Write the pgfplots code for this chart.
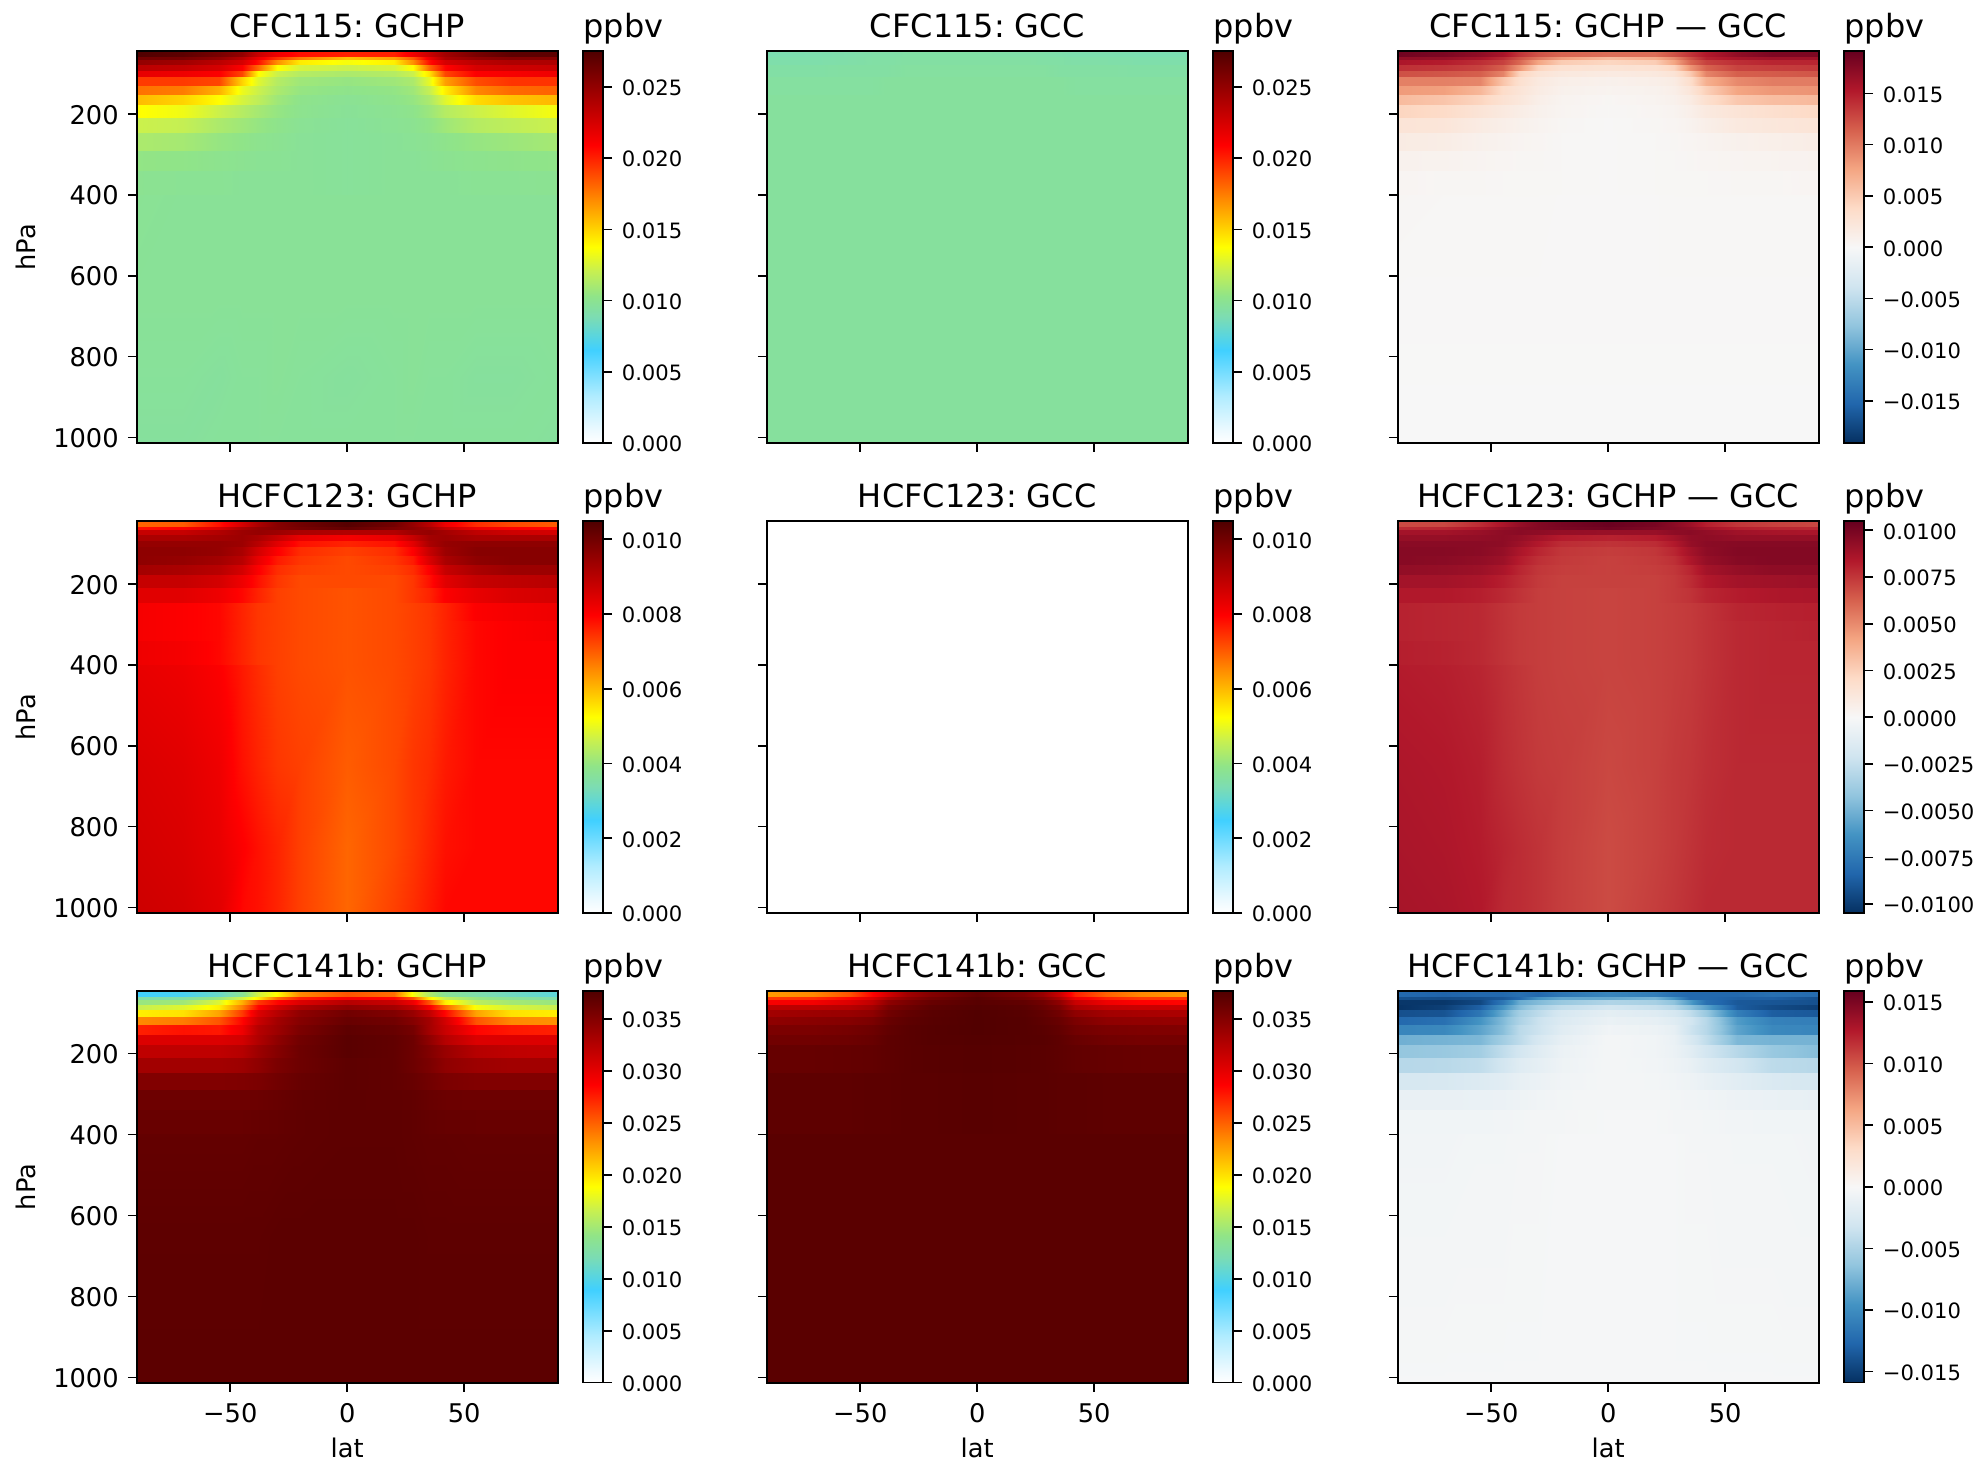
\documentclass[border=0pt]{standalone}
\usepackage{fontspec}
\setmainfont{DejaVu Sans}
\usepackage{etoolbox}
\usepackage{pgfplots}
\usepackage{pgfplotstable}
\pgfplotsset{compat=1.18}
\pgfplotsset{
 colormap={wgyr}{rgb255(0)=(255,255,255) rgb255(30)=(238,250,255) rgb255(120)=(176,236,255) rgb255(237)=(64,208,255) rgb255(320)=(123,220,180) rgb255(375)=(144,228,136) rgb255(440)=(200,240,80) rgb255(500)=(255,255,0) rgb255(620)=(255,140,0) rgb255(760)=(255,0,0) rgb255(870)=(176,0,0) rgb255(1000)=(80,0,0)},
 colormap={rdbu}{rgb255(0)=(5,48,97) rgb255(1)=(33,102,172) rgb255(2)=(67,147,195) rgb255(3)=(146,197,222) rgb255(4)=(209,229,240) rgb255(5)=(247,247,247) rgb255(6)=(253,219,199) rgb255(7)=(244,165,130) rgb255(8)=(214,96,77) rgb255(9)=(178,24,43) rgb255(10)=(103,0,31)}
}
% CFC115 GCHP
\pgfplotstableread{
pt pb a b c d e f g h i j k l m n o
45.4 60 .0275 .027 .026 .025 .023 .0215 .0205 .020 .020 .0215 .023 .0245 .026 .027 .027
60 68 .0262 .026 .025 .0235 .0215 .0195 .0175 .0155 .0165 .0185 .0215 .024 .025 .0255 .0255
68 80 .025 .0245 .0235 .0225 .0205 .017 .0143 .0135 .0142 .017 .0205 .0225 .0235 .024 .024
80 93 .0235 .0232 .0225 .021 .018 .0138 .0125 .0122 .0125 .0138 .018 .0208 .0225 .0228 .023
93 110 .0218 .0215 .021 .019 .0138 .0122 .0115 .0112 .0115 .0122 .0145 .019 .021 .0212 .0215
110 130 .0193 .0193 .019 .015 .0128 .0115 .0108 .0105 .0108 .0112 .013 .0165 .0188 .0195 .0195
130 153 .0178 .0175 .016 .0132 .0122 .0112 .0105 .0102 .0104 .0108 .012 .0142 .0172 .018 .0182
153 178 .0157 .015 .0138 .0125 .0118 .0108 .0102 .0099 .0102 .0105 .0112 .0128 .0148 .0155 .0158
178 211 .0138 .0133 .0122 .0115 .011 .0105 .0101 .0098 .01 .0102 .0107 .0115 .0122 .0128 .0135
211 248 .0122 .012 .0112 .0108 .0105 .0102 .0099 .0097 .0099 .01 .0103 .0108 .0115 .0118 .0122
248 291 .0112 .011 .0105 .0103 .0101 .01 .0098 .0097 .0098 .0099 .01 .0102 .0105 .0107 .011
291 340 .0104 .0103 .0101 .01 .0099 .0099 .0098 .0097 .0098 .0098 .0099 .01 .0101 .0102 .0103
340 400 .01 .0099 .0099 .0098 .0098 .0098 .0098 .0097 .0098 .0098 .0098 .0098 .0099 .0099 .01
400 400 .0099 .0098 .0098 .0098 .0098 .0098 .0098 .0098 .0098 .0098 .0098 .0098 .0098 .0098 .0098
650 650 .0098 .0098 .0098 .0098 .0098 .0098 .0098 .0098 .0098 .0098 .0098 .0098 .0098 .0098 .0098
850 850 .0097 .0097 .0096 .0097 .0097 .0098 .0097 .0096 .0097 .0098 .0097 .0097 .0096 .0096 .0097
1013.3 1013.3 .0096 .0096 .0097 .0097 .0097 .0097 .0097 .0097 .0097 .0097 .0097 .0097 .0097 .0097 .0096
}\tA
% CFC115 GCC
\pgfplotstableread{
pt pb a b c d e f g h i j k l m n o
45.4 60 .0089 .009 .0091 .0092 .0092 .0093 .0093 .0093 .0092 .0092 .0091 .009 .009 .0089 .0089
60 80 .0091 .0091 .0092 .0093 .0093 .0094 .0094 .0094 .0094 .0093 .0093 .0092 .0092 .0091 .0091
80 110 .0093 .0093 .0094 .0094 .0094 .0095 .0095 .0095 .0095 .0095 .0094 .0094 .0094 .0093 .0093
110 153 .0095 .0095 .0095 .0095 .0096 .0096 .0096 .0096 .0096 .0096 .0096 .0095 .0095 .0095 .0095
153 153 .0096 .0096 .0096 .0096 .0096 .0096 .0096 .0096 .0096 .0096 .0096 .0096 .0096 .0096 .0096
1013.3 1013.3 .0096 .0096 .0096 .0096 .0096 .0096 .0096 .0096 .0096 .0096 .0096 .0096 .0096 .0096 .0096
}\tB
% CFC115 difference
\pgfplotstableread{
pt pb a b c d e f g h i j k l m n o
45.4 60 .0186 .018 .017 .0158 .0138 .0122 .0112 .0107 .0107 .0122 .0138 .0153 .017 .018 .018
60 68 .0169 .0167 .0157 .0142 .0122 .0102 .0082 .0062 .0072 .0092 .0122 .0147 .0157 .0162 .0162
68 80 .0156 .0151 .0141 .0131 .0111 .0076 .0049 .0041 .0048 .0076 .0111 .0131 .0141 .0146 .0146
80 93 .014 .0137 .013 .0115 .0085 .0043 .003 .0027 .003 .0043 .0085 .0113 .013 .0133 .0135
93 110 .0123 .012 .0115 .0095 .0043 .0027 .002 .0017 .002 .0027 .005 .0095 .0115 .0117 .012
110 130 .0097 .0097 .0094 .0054 .0032 .0019 .0012 .0009 .0012 .0016 .0034 .0069 .0092 .0099 .0099
130 153 .0082 .0079 .0064 .0036 .0026 .0016 .0009 .0006 .0008 .0012 .0024 .0046 .0076 .0084 .0086
153 178 .0061 .0054 .0042 .0029 .0022 .0012 .0006 .0003 .0006 .0009 .0016 .0032 .0052 .0059 .0062
178 211 .0042 .0037 .0026 .0019 .0014 .0009 .0005 .0002 .0004 .0006 .0011 .0019 .0026 .0032 .0039
211 248 .0026 .0024 .0016 .0012 .0009 .0006 .0003 .0001 .0003 .0004 .0007 .0012 .0019 .0022 .0026
248 291 .0016 .0014 .0009 .0007 .0005 .0004 .0002 .0001 .0002 .0003 .0004 .0006 .0009 .0011 .0014
291 340 .0008 .0007 .0005 .0004 .0003 .0003 .0002 .0001 .0002 .0002 .0003 .0004 .0005 .0006 .0007
340 400 .0004 .0003 .0003 .0002 .0002 .0002 .0002 .0001 .0002 .0002 .0002 .0002 .0003 .0003 .0004
400 400 .0003 .0002 .0002 .0002 .0002 .0002 .0001 .0001 .0001 .0002 .0002 .0002 .0002 .0002 .0002
650 650 .0001 .0001 .0001 .0001 .0001 .0001 .0001 .0001 .0001 .0001 .0001 .0001 .0001 .0001 .0001
1013.3 1013.3 0 0 0 0 0 0 0 0 0 0 0 0 0 0 0
}\tC
% HCFC123 GCHP (the difference panel holds the same values, GCC being 0)
\pgfplotstableread{
pt pb a b c d e f g h i j k l m n o
45.4 60 .0069 .007 .0078 .0086 .0092 .0097 .01 .0104 .01 .0095 .009 .0082 .0075 .0072 .007
60 68 .0078 .008 .0085 .0092 .0095 .0097 .0099 .0102 .0098 .0096 .0093 .0088 .0082 .008 .0079
68 80 .0088 .0088 .0091 .0094 .0095 .0094 .0092 .0091 .0091 .0094 .0095 .0093 .0089 .0087 .0086
80 93 .0092 .0092 .0093 .0094 .0092 .0088 .0083 .0081 .0083 .0088 .0093 .0094 .0092 .0092 .0092
93 110 .0095 .0095 .0095 .0094 .009 .0084 .0078 .0076 .0078 .0084 .0092 .0095 .0096 .0096 .0096
110 130 .0096 .0096 .0095 .0092 .0086 .008 .0075 .0073 .0075 .008 .0088 .0094 .0097 .0097 .0097
130 153 .0096 .0095 .0093 .009 .0083 .0077 .0074 .0072 .0074 .0077 .0085 .0092 .0096 .0097 .0097
153 178 .0093 .0092 .009 .0086 .008 .0075 .0073 .0072 .0073 .0075 .008 .0088 .0092 .0094 .0094
178 211 .0088 .0088 .0086 .0082 .0078 .0074 .0072 .0072 .0072 .0074 .0078 .0084 .0088 .0089 .009
211 248 .0084 .0084 .0082 .0079 .0076 .0073 .0072 .0071 .0072 .0074 .0076 .008 .0083 .0085 .0086
248 291 .0081 .008 .0079 .0076 .0074 .0073 .0072 .0071 .0072 .0073 .0074 .0076 .008 .0081 .0082
291 340 .0081 .008 .0079 .0076 .0074 .0073 .0072 .0071 .0072 .0073 .0074 .0076 .0079 .008 .0081
340 400 .0082 .0081 .0079 .0076 .0074 .0073 .0072 .0071 .0072 .0073 .0074 .0076 .0079 .008 .008
400 400 .0083 .0082 .008 .0077 .0075 .0073 .0072 .0071 .0072 .0073 .0074 .0076 .0079 .008 .008
650 650 .0085 .0084 .0082 .0078 .0076 .0074 .0073 .007 .0072 .0074 .0075 .0077 .0079 .0079 .0079
850 850 .0086 .0085 .0083 .008 .0078 .0076 .0073 .0069 .0072 .0074 .0076 .0078 .0079 .0079 .0079
1013.3 1013.3 .0087 .0086 .0084 .0079 .0078 .0076 .0073 .0069 .0073 .0075 .0077 .0079 .0079 .0079 .0079
}\tD
% HCFC123 GCC
\pgfplotstableread{
pt pb a b c d e f g h i j k l m n o
45.4 45.4 0 0 0 0 0 0 0 0 0 0 0 0 0 0 0
1013.3 1013.3 0 0 0 0 0 0 0 0 0 0 0 0 0 0 0
}\tE
% HCFC141b GCHP
\pgfplotstableread{
pt pb a b c d e f g h i j k l m n o
45.4 60 .0089 .0095 .0112 .0135 .017 .019 .0235 .0255 .0245 .0185 .0155 .0135 .0125 .0115 .0105
60 68 .0125 .0128 .0145 .017 .0195 .0245 .0275 .029 .0285 .0255 .0195 .0165 .0145 .0135 .0125
68 80 .0145 .0148 .0175 .022 .0265 .0285 .0305 .0325 .0315 .0295 .0255 .0195 .016 .015 .0145
80 93 .0165 .0175 .0195 .024 .0285 .031 .033 .0345 .0335 .032 .029 .025 .0185 .0172 .0165
93 110 .0195 .02 .0225 .0265 .0305 .0325 .0345 .036 .0352 .034 .032 .0285 .0225 .02 .0195
110 130 .0235 .024 .0255 .0285 .0315 .0335 .035 .0365 .036 .035 .0335 .031 .0255 .0235 .0232
130 153 .0275 .028 .0278 .0295 .0325 .0338 .0355 .037 .0365 .0358 .0335 .0315 .0285 .0278 .0275
153 178 .0305 .0305 .0305 .031 .0328 .0345 .036 .0372 .0368 .0362 .0345 .0325 .0305 .0305 .0305
178 211 .032 .032 .032 .0325 .0338 .035 .0362 .0372 .0368 .0362 .0352 .034 .0325 .032 .0318
211 248 .0335 .0335 .0335 .0338 .0345 .0355 .0362 .037 .0368 .0362 .0355 .0345 .0338 .0335 .0335
248 291 .0352 .0352 .0352 .0353 .0355 .036 .0365 .037 .0368 .0365 .036 .0355 .0352 .0352 .0352
291 340 .0362 .0362 .0362 .0362 .0363 .0365 .0368 .037 .0369 .0368 .0365 .0363 .0362 .0362 .0362
340 400 .0365 .0365 .0365 .0365 .0366 .0367 .0369 .037 .037 .0369 .0367 .0366 .0365 .0365 .0365
400 400 .0367 .0367 .0367 .0367 .0368 .0368 .0369 .037 .037 .0369 .0368 .0368 .0367 .0367 .0367
650 650 .037 .037 .037 .037 .037 .0371 .0371 .0371 .0371 .0371 .037 .037 .037 .037 .037
1013.3 1013.3 .0371 .0371 .0371 .0371 .0371 .0371 .0371 .0371 .0371 .0371 .0371 .0371 .0371 .0371 .0371
}\tG
% HCFC141b GCC
\pgfplotstableread{
pt pb a b c d e f g h i j k l m n o
45.4 60 .0228 .0235 .0255 .0285 .031 .0335 .035 .0368 .0355 .034 .0315 .0275 .025 .0235 .0228
60 68 .0265 .027 .0285 .0305 .033 .0345 .0358 .0372 .036 .035 .033 .0295 .0275 .0265 .0265
68 80 .029 .0292 .0305 .032 .0345 .0355 .0365 .0373 .0368 .036 .0345 .0315 .0295 .0287 .0285
80 93 .0322 .0322 .0325 .0335 .0355 .0362 .037 .0375 .0372 .0365 .0355 .033 .0318 .0315 .0315
93 110 .0335 .0338 .034 .0345 .036 .0367 .0372 .0376 .0373 .0368 .036 .0345 .0335 .0332 .033
110 130 .0345 .0348 .035 .0355 .0365 .037 .0373 .0376 .0374 .037 .0365 .0355 .0345 .0343 .0342
130 153 .0355 .0355 .0358 .0362 .0368 .0372 .0374 .0376 .0374 .0372 .0368 .036 .0355 .0353 .0352
153 178 .036 .036 .0362 .0365 .037 .0372 .0374 .0375 .0374 .0373 .037 .0365 .036 .0358 .0358
178 248 .0366 .0366 .0367 .0368 .037 .0372 .0373 .0374 .0373 .0372 .037 .0368 .0366 .0365 .0365
248 400 .037 .037 .037 .0371 .0371 .0372 .0372 .0373 .0372 .0372 .0371 .0371 .037 .037 .037
400 400 .0372 .0372 .0372 .0372 .0372 .0372 .0372 .0372 .0372 .0372 .0372 .0372 .0372 .0372 .0372
1013.3 1013.3 .0372 .0372 .0372 .0372 .0372 .0372 .0372 .0372 .0372 .0372 .0372 .0372 .0372 .0372 .0372
}\tH
% HCFC141b difference
\pgfplotstableread{
pt pb a b c d e f g h i j k l m n o
45.4 60 -.0125 -.0128 -.0125 -.0125 -.012 -.0125 -.0115 -.0105 -.011 -.012 -.0125 -.0125 -.0125 -.012 -.0123
60 68 -.014 -.0142 -.014 -.0135 -.0125 -.0095 -.0083 -.0082 -.0075 -.0095 -.0125 -.0125 -.013 -.013 -.014
68 80 -.0155 -.0155 -.0145 -.0115 -.008 -.007 -.006 -.0048 -.0053 -.0065 -.009 -.012 -.0135 -.0137 -.014
80 93 -.0157 -.015 -.013 -.0095 -.007 -.0052 -.004 -.003 -.0037 -.0045 -.0065 -.0085 -.0133 -.0143 -.015
93 110 -.014 -.0138 -.0115 -.008 -.0055 -.0042 -.0027 -.0016 -.0021 -.0028 -.004 -.006 -.011 -.0132 -.0135
110 130 -.0125 -.012 -.0095 -.007 -.005 -.0035 -.0023 -.0011 -.0014 -.002 -.003 -.0045 -.009 -.0108 -.011
130 153 -.0105 -.0103 -.0085 -.0067 -.0043 -.0034 -.0019 -.0006 -.0009 -.0014 -.0033 -.0045 -.0085 -.0103 -.0105
153 178 -.0077 -.0075 -.0072 -.0055 -.0042 -.0027 -.0014 -.0003 -.0006 -.0011 -.0025 -.004 -.0072 -.0075 -.0075
178 211 -.0062 -.006 -.0055 -.004 -.003 -.002 -.001 -.0003 -.0006 -.001 -.0018 -.003 -.0045 -.006 -.0068
211 248 -.0045 -.0044 -.004 -.003 -.002 -.0015 -.0008 -.0003 -.0005 -.0008 -.0012 -.002 -.003 -.0042 -.0045
248 291 -.0027 -.0026 -.0022 -.0018 -.0013 -.001 -.0006 -.0003 -.0004 -.0006 -.0008 -.0012 -.0018 -.0024 -.0028
291 340 -.0012 -.0012 -.0011 -.001 -.0008 -.0006 -.0004 -.0003 -.0003 -.0004 -.0005 -.0006 -.0009 -.0011 -.0014
340 400 -.0006 -.0006 -.0006 -.0005 -.0004 -.0003 -.0003 -.0002 -.0002 -.0003 -.0003 -.0004 -.0005 -.0006 -.0006
400 400 -.0005 -.0005 -.0004 -.0004 -.0003 -.0003 -.0002 -.0002 -.0002 -.0002 -.0003 -.0003 -.0004 -.0004 -.0005
1013.3 1013.3 -.0002 -.0002 -.0002 -.0002 -.0002 -.0002 -.0002 -.0002 -.0002 -.0002 -.0002 -.0002 -.0002 -.0002 -.0002
}\tI
\newcommand\buildmesh[2]{%
 \gdef\meshcoords{}%
 \pgfplotstablegetrowsof{#1}\pgfmathtruncatemacro\nr{\pgfplotsretval-1}%
 \foreach \r in {0,...,\nr}{%
  \pgfplotstablegetelem{\r}{pt}\of{#1}\edef\ptv{\pgfplotsretval}%
  \pgfplotstablegetelem{\r}{pb}\of{#1}\edef\pbv{\pgfplotsretval}%
  \foreach \e in {\ptv,\pbv}{%
   \foreach \c/\lat in {a/-90,b/-70,c/-55,d/-45,e/-38,f/-30,g/-20,h/0,i/20,j/28,k/35,l/42,m/55,n/70,o/90}{%
    \pgfplotstablegetelem{\r}{\c}\of{#1}%
    \xappto\meshcoords{(\lat,\e) [\pgfplotsretval] }%
   }}}%
 \global\let#2\meshcoords
}
\newcommand\tfont{\fontsize{12.9}{15}\selectfont}
\newcommand\cfont{\fontsize{10.6}{13}\selectfont}
\newcommand\hfont{\fontsize{16.05}{19}\selectfont\frenchspacing}
\pgfplotsset{
 panel/.style={
  scale only axis, width=210.5bp, height=195.85bp,
  anchor=south west, axis on top,
  xmin=-90, xmax=90, ymin=45.4, ymax=1013.3, y dir=reverse,
  xtick={-50,0,50}, ytick={200,400,600,800,1000},
  xticklabels={}, yticklabels={},
  tick pos=left, tick align=outside, major tick length=4.4bp,
  every tick/.style={black, line width=0.8bp},
  axis line style={line width=0.8bp},
  tick label style={font=\tfont, inner sep=0pt},
  yticklabel style={yshift=-0.4bp},
  xticklabel shift=5.6bp, yticklabel shift=4.4bp,
  label style={font=\tfont},
  title style={font=\hfont, at={(0.5,1)}, anchor=base, yshift=0.7bp, inner sep=0pt},
  xlabel style={at={(axis description cs:0.5,-0.192)}, anchor=base, inner sep=0pt},
  ylabel style={at={(axis description cs:-0.262,0.5)}, anchor=center, inner sep=0pt},
 },
 ylab/.style={ylabel={hPa}, yticklabels={200,400,600,800,1000}},
 xlab/.style={xlabel={lat}, xticklabels={−50,0,50}},
}
\newcommand\panel[8]{% x, y, mesh, colormap, min, max, title, extras
 \begin{axis}[panel, at={(#1bp,#2bp)}, colormap name=#4, title={#7},
  point meta min=#5, point meta max=#6, colorbar, #8]
  \edef\tmp{\noexpand\addplot[surf,shader=interp,mesh/cols=15,point meta=explicit] coordinates {#3};}\tmp
 \end{axis}}
\pgfplotsset{
 cbstyle/.style={colorbar style={
   at={(1.0606,0)}, anchor=south west, width=10bp, height=195.85bp, scale only axis,
   xtick=\empty, ytick pos=right, yticklabel pos=right, tick align=outside,
   scaled y ticks=false,
   major tick length=4.4bp, every tick/.style={black, line width=0.8bp},
   axis line style={line width=0.8bp},
   tick label style={font=\cfont, inner sep=0pt},
   yticklabel style={yshift=-0.6bp}, yticklabel shift=4.7bp,
   title={ppbv}, title style={font=\hfont, at={(0,1)}, anchor=base west, yshift=0.7bp, inner sep=0pt},
   #1}},
 cbA/.style={cbstyle={ytick={0,.005,.01,.015,.02,.025}, yticklabels={0.000,0.005,0.010,0.015,0.020,0.025}}},
 cbC/.style={cbstyle={ytick={-.015,-.01,-.005,0,.005,.01,.015}, yticklabels={−0.015,−0.010,−0.005,0.000,0.005,0.010,0.015}}},
 cbD/.style={cbstyle={ytick={0,.002,.004,.006,.008,.01}, yticklabels={0.000,0.002,0.004,0.006,0.008,0.010}}},
 cbF/.style={cbstyle={ytick={-.01,-.0075,-.005,-.0025,0,.0025,.005,.0075,.01}, yticklabels={−0.0100,−0.0075,−0.0050,−0.0025,0.0000,0.0025,0.0050,0.0075,0.0100}}},
 cbG/.style={cbstyle={ytick={0,.005,.01,.015,.02,.025,.03,.035}, yticklabels={0.000,0.005,0.010,0.015,0.020,0.025,0.030,0.035}}},
}
\begin{document}
\begin{tikzpicture}
\path[use as bounding box] (0,0) rectangle (990bp,732bp);
\buildmesh{\tA}{\mA}\buildmesh{\tB}{\mB}\buildmesh{\tC}{\mC}\buildmesh{\tD}{\mD}\buildmesh{\tE}{\mE}\buildmesh{\tG}{\mG}\buildmesh{\tH}{\mH}\buildmesh{\tI}{\mI}
\panel{68.35}{510.5}{\mA}{wgyr}{0}{.0275}{CFC115: GCHP}{ylab,cbA}
\panel{383.35}{510.5}{\mB}{wgyr}{0}{.0275}{CFC115: GCC}{cbA}
\panel{698.85}{510.5}{\mC}{rdbu}{-.0191}{.0191}{CFC115: GCHP — GCC}{cbC}
\panel{68.35}{275.5}{\mD}{wgyr}{0}{.01048}{HCFC123: GCHP}{ylab,cbD}
\panel{383.35}{275.5}{\mE}{wgyr}{0}{.01048}{HCFC123: GCC}{cbD}
\panel{698.85}{275.5}{\mD}{rdbu}{-.01048}{.01048}{HCFC123: GCHP — GCC}{cbF}
\panel{68.35}{40.65}{\mG}{wgyr}{0}{.0377}{HCFC141b: GCHP}{ylab,xlab,cbG}
\panel{383.35}{40.65}{\mH}{wgyr}{0}{.0377}{HCFC141b: GCC}{xlab,cbG}
\panel{698.85}{40.65}{\mI}{rdbu}{-.0159}{.0159}{HCFC141b: GCHP — GCC}{xlab,cbC}
\end{tikzpicture}
\end{document}
